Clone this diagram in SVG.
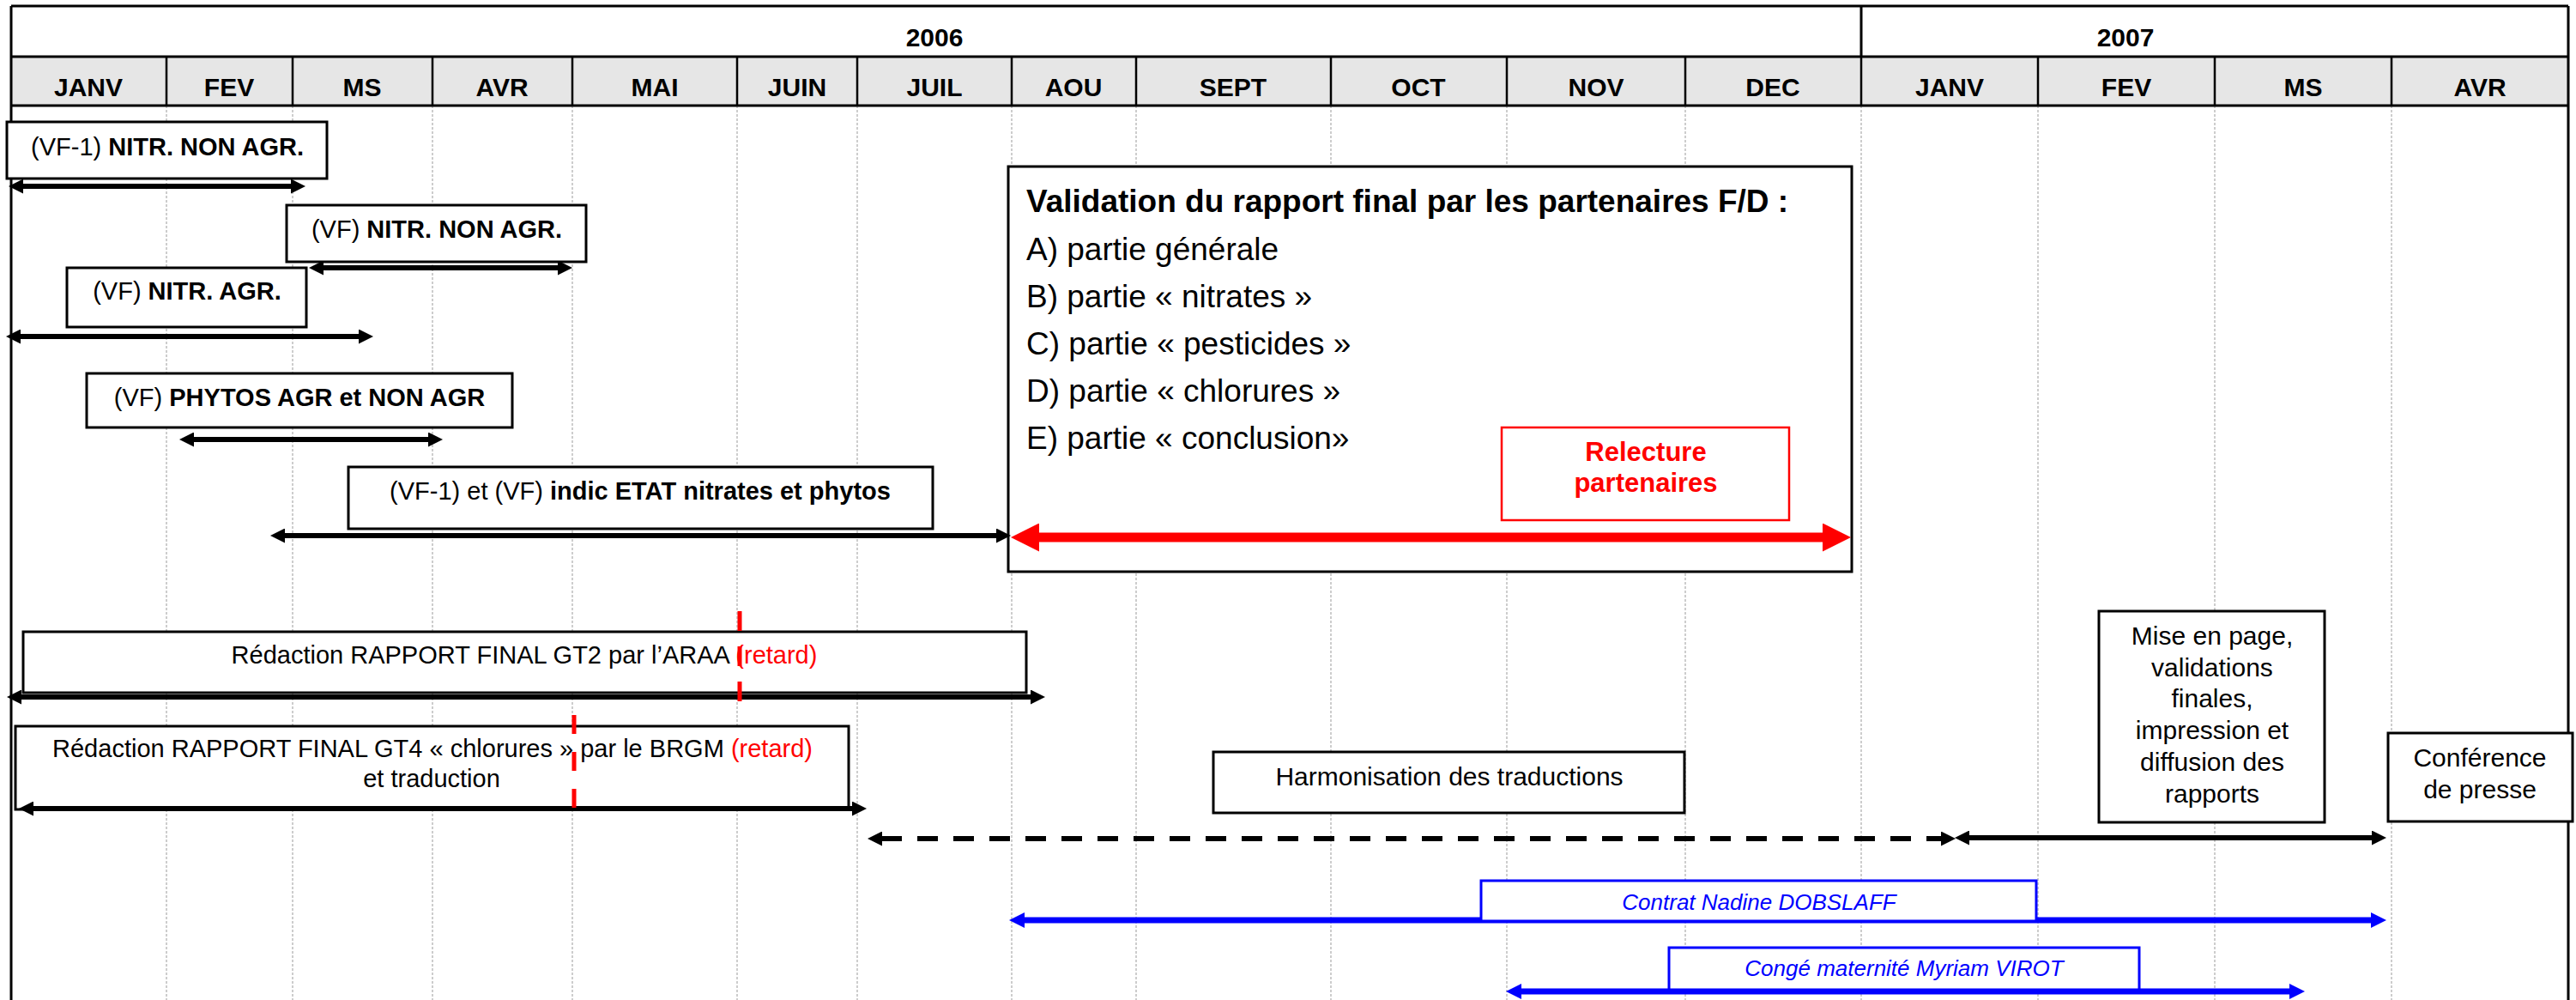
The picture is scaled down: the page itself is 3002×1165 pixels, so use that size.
<svg xmlns="http://www.w3.org/2000/svg" width="3002" height="1165" viewBox="0 0 3002 1165">
<style>
text{font-family:"Liberation Sans",Arial,sans-serif;fill:#000}
.hd{font-size:30px;font-weight:bold;text-anchor:middle}
.lb{font-size:29px;text-anchor:middle}
.lc{font-size:30px;text-anchor:middle}
.b{font-weight:bold}
.vl{font-size:37px}
.red{fill:#f00}
.rl{font-size:31px;font-weight:bold;text-anchor:middle;fill:#f00}
.blue{fill:#00f;font-style:italic;font-size:26px;text-anchor:middle}
.grid{stroke:#bdbdbd;stroke-width:1.5;stroke-dasharray:3 2}
.box{fill:#fff;stroke:#000;stroke-width:3}
.bbox{fill:#fff;stroke:#00f;stroke-width:3}
.rbox{fill:#fff;stroke:#f00;stroke-width:2.5}
.arr{stroke:#000;stroke-width:6;fill:none;marker-start:url(#ak);marker-end:url(#ak)}
.ret{stroke:#f00;stroke-width:5}
</style>
<defs>
<marker id="ak" markerUnits="userSpaceOnUse" markerWidth="17" markerHeight="17" refX="1" refY="8.5" orient="auto-start-reverse"><path d="M0,0 L17,8.5 L0,17 z" fill="#000"/></marker>
<marker id="ar" markerUnits="userSpaceOnUse" markerWidth="33" markerHeight="33" refX="1" refY="16.5" orient="auto-start-reverse"><path d="M0,0 L33,16.5 L0,33 z" fill="#f00"/></marker>
<marker id="ab" markerUnits="userSpaceOnUse" markerWidth="18" markerHeight="18" refX="1" refY="9" orient="auto-start-reverse"><path d="M0,0 L18,9 L0,18 z" fill="#00f"/></marker>
</defs>
<rect width="3002" height="1165" fill="#fff"/>
<g id="grid">
<path class="grid" d="M194,123V1165M341,123V1165M504,123V1165M667,123V1165M859,123V1165M999,123V1165M1179,123V1165M1324,123V1165M1551,123V1165M1756,123V1165M1964,123V1165M2169,123V1165M2375,123V1165M2581,123V1165M2787,123V1165"/>
</g>
<g id="header">
<rect x="13" y="66" width="2980" height="57" fill="#e6e6e6"/>
<path d="M13,7H2993M13,66H2993M13,123H2993M13,7V1165M2993,7V1165M2169,7V66" stroke="#000" stroke-width="3" fill="none"/>
<path d="M194,66V123M341,66V123M504,66V123M667,66V123M859,66V123M999,66V123M1179,66V123M1324,66V123M1551,66V123M1756,66V123M1964,66V123M2169,66V123M2375,66V123M2581,66V123M2787,66V123" stroke="#000" stroke-width="2.5"/>
<text class="hd" x="1089" y="54">2006</text>
<text class="hd" x="2477" y="54">2007</text>
<text class="hd" x="103" y="112">JANV</text>
<text class="hd" x="267" y="112">FEV</text>
<text class="hd" x="422" y="112">MS</text>
<text class="hd" x="585" y="112">AVR</text>
<text class="hd" x="763" y="112">MAI</text>
<text class="hd" x="929" y="112">JUIN</text>
<text class="hd" x="1089" y="112">JUIL</text>
<text class="hd" x="1251" y="112">AOU</text>
<text class="hd" x="1437" y="112">SEPT</text>
<text class="hd" x="1653" y="112">OCT</text>
<text class="hd" x="1860" y="112">NOV</text>
<text class="hd" x="2066" y="112">DEC</text>
<text class="hd" x="2272" y="112">JANV</text>
<text class="hd" x="2478" y="112">FEV</text>
<text class="hd" x="2684" y="112">MS</text>
<text class="hd" x="2890" y="112">AVR</text>
</g>
<g id="n1"><rect class="box" x="8" y="142" width="373" height="66"/><text class="lb" x="195" y="181">(VF-1) <tspan class="b">NITR. NON AGR.</tspan></text></g>
<g id="n2"><rect class="box" x="334" y="239" width="349" height="66"/><text class="lb" x="509" y="277">(VF) <tspan class="b">NITR. NON AGR.</tspan></text></g>
<g id="n3"><rect class="box" x="78" y="312" width="279" height="69"/><text class="lb" x="218" y="349">(VF) <tspan class="b">NITR. AGR.</tspan></text></g>
<g id="n4"><rect class="box" x="101" y="435" width="496" height="63"/><text class="lb" x="349" y="473">(VF) <tspan class="b">PHYTOS AGR et NON AGR</tspan></text></g>
<g id="n5"><rect class="box" x="406" y="544" width="681" height="72"/><text class="lb" x="746" y="582">(VF-1) et (VF) <tspan class="b">indic ETAT nitrates et phytos</tspan></text></g>
<g id="n6"><rect class="box" x="1175" y="194" width="983" height="472"/>
<text class="vl b" x="1196" y="247">Validation du rapport final par les partenaires F/D :</text>
<text class="vl" x="1196" y="303">A) partie générale</text>
<text class="vl" x="1196" y="358">B) partie « nitrates »</text>
<text class="vl" x="1196" y="413">C) partie « pesticides »</text>
<text class="vl" x="1196" y="468">D) partie « chlorures »</text>
<text class="vl" x="1196" y="523">E) partie « conclusion»</text>
</g>
<g id="n7"><rect class="rbox" x="1750" y="498" width="335" height="108"/><text class="rl" x="1918" y="537">Relecture</text><text class="rl" x="1918" y="573">partenaires</text></g>
<g id="n8"><rect class="box" x="27" y="736" width="1169" height="71"/><text class="lb" x="611" y="773">Rédaction RAPPORT FINAL GT2 par l’ARAA <tspan class="red">(retard)</tspan></text></g>
<g id="n9"><rect class="box" x="18" y="846" width="971" height="97"/><text class="lb" x="504" y="882">Rédaction RAPPORT FINAL GT4 « chlorures » par le BRGM <tspan class="red">(retard)</tspan></text><text class="lb" x="503" y="917">et traduction</text></g>
<g id="n10"><rect class="box" x="1414" y="876" width="549" height="71"/><text class="lc" x="1689" y="915">Harmonisation des traductions</text></g>
<g id="n11"><rect class="box" x="2446" y="712" width="263" height="246"/>
<text class="lc" x="2578" y="751">Mise en page,</text>
<text class="lc" x="2578" y="788">validations</text>
<text class="lc" x="2578" y="824">finales,</text>
<text class="lc" x="2578" y="861">impression et</text>
<text class="lc" x="2578" y="898">diffusion des</text>
<text class="lc" x="2578" y="935">rapports</text>
</g>
<g id="n12"><rect class="box" x="2783" y="854" width="215" height="103"/><text class="lc" x="2890" y="893">Conférence</text><text class="lc" x="2890" y="930">de presse</text></g>
<g id="connectors">
<line class="arr" x1="26" y1="217" x2="340" y2="217"/>
<line class="arr" x1="376" y1="312" x2="651" y2="312"/>
<line class="arr" x1="23" y1="392" x2="419" y2="392"/>
<line class="arr" x1="225" y1="512" x2="500" y2="512"/>
<line class="arr" x1="331" y1="624" x2="1162" y2="624"/>
<line x1="1210" y1="626" x2="2125" y2="626" stroke="#f00" stroke-width="11" marker-start="url(#ar)" marker-end="url(#ar)"/>
<line class="arr" x1="24" y1="812" x2="1202" y2="812"/>
<line class="arr" x1="38" y1="942" x2="994" y2="942"/>
<line x1="1027" y1="977" x2="2263" y2="977" stroke="#000" stroke-width="6" stroke-dasharray="24 18" marker-start="url(#ak)" marker-end="url(#ak)"/>
<line class="arr" x1="2294" y1="976" x2="2765" y2="976"/>
<line x1="1193" y1="1072" x2="2764" y2="1072" stroke="#00f" stroke-width="7" marker-start="url(#ab)" marker-end="url(#ab)"/>
<line x1="1772" y1="1155" x2="2669" y2="1155" stroke="#00f" stroke-width="7" marker-start="url(#ab)" marker-end="url(#ab)"/>
</g>
<g id="n13"><rect class="bbox" x="1726" y="1026" width="647" height="47"/><text class="blue" x="2050" y="1060">Contrat Nadine DOBSLAFF</text></g>
<g id="n14"><rect class="bbox" x="1945" y="1104" width="548" height="49"/><text class="blue" x="2219" y="1137">Congé maternité Myriam VIROT</text></g>
<g id="delays">
<line class="ret" x1="862" y1="712" x2="862" y2="819" stroke-dasharray="23 18"/>
<line class="ret" x1="669" y1="833" x2="669" y2="941" stroke-dasharray="22 21"/>
</g>
</svg>
